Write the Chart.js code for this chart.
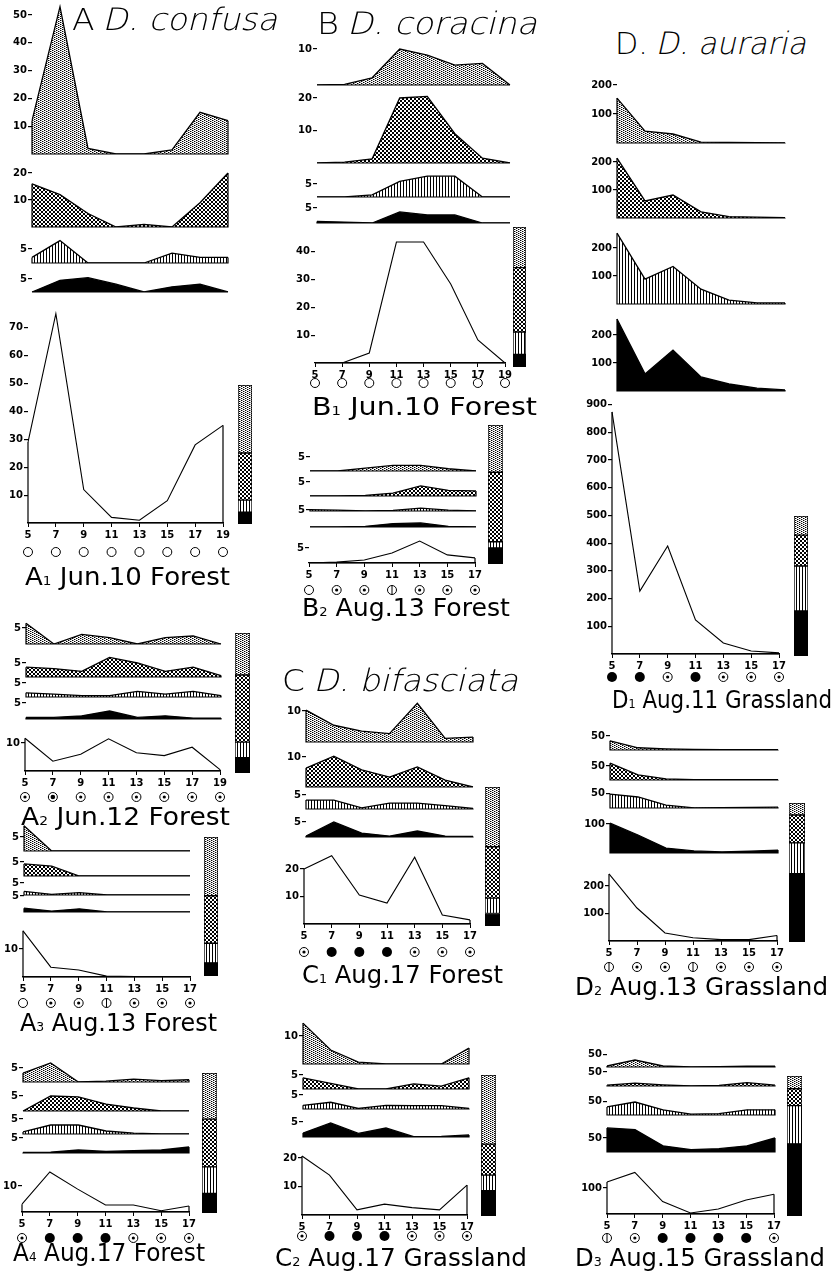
<!DOCTYPE html>
<html lang="en">
<head>
<meta charset="UTF-8" />
<title>Drosophila - daily activity</title>
<script src="https://cdn.jsdelivr.net/npm/chart.js@4"></script>
<style>
  body { margin: 0; background: #fff; }
  #fig { position: relative; width: 836px; height: 1275px; overflow: hidden; background: #fff; }
  #fig canvas { position: absolute; }
  .txt { position: absolute; white-space: nowrap; font-family: 'DejaVu Sans', sans-serif; line-height: 1; color: #000; transform-origin: 0 0; }
  .sp { font-weight: 200; }
  .sp .obl { display: inline-block; transform: skewX(-13deg); }
  .lab sub { font-size: 0.52em; vertical-align: baseline; }
</style>
</head>
<body>
<div id="fig"></div>
<script>
const hours19 = ['5', '7', '9', '11', '13', '15', '17', '19'];
const hours17 = ['5', '7', '9', '11', '13', '15', '17'];

// series order in each panel: light dots, heavy dots, lined, black ; then total
// share = right hand bar, bottom to top: black, lined, heavy, light (%)

// A1 Jun.10 Forest
const a1Light = [12, 53, 2, 0, 0, 1.5, 15, 12];
const a1Heavy = [16, 12, 5, 0, 1, 0, 9, 20];
const a1Lined = [2, 8, 0, 0, 0, 3.5, 2, 2];
const a1Black = [0, 4.5, 5.5, 3, 0, 2, 3, 0];
const a1Total = [29, 75, 12, 2, 1, 8, 28, 35];
const a1Share = [8.6, 8.6, 34, 49];
const a1Sky = ['O', 'O', 'O', 'O', 'O', 'O', 'O', 'O'];
const a1Ticks = [[10, 20, 30, 40, 50], [10, 20], [5], [5], [10, 20, 30, 40, 50, 60, 70]];

// A2 Jun.12 Forest
const a2Light = [6.5, 0, 3, 2, 0, 2, 2.5, 0];
const a2Heavy = [3.5, 3, 2, 7, 5, 2, 3.5, 0.5];
const a2Lined = [1.5, 1, 0.5, 0.5, 2, 1, 2, 0.5];
const a2Black = [0.5, 0.5, 1, 2.5, 0.5, 1, 0.3, 0.3];
const a2Total = [11.7, 3.5, 6, 11.5, 6.5, 5.5, 8.5, 0.5];
const a2Share = [11, 11, 48, 30];
const a2Sky = ['D', 'B', 'D', 'D', 'D', 'D', 'D', 'D'];
const a2Ticks = [[5], [5], [5], [5], [10]];

// A3 Aug.13 Forest
const a3Light = [9, 0, 0, 0, 0, 0, 0];
const a3Heavy = [4.3, 3.5, 0, 0, 0, 0, 0];
const a3Lined = [1.5, 0.3, 1, 0, 0, 0, 0];
const a3Black = [1.2, 0.3, 1, 0, 0, 0, 0];
const a3Total = [16.5, 3.5, 2.5, 0.3, 0.2, 0.2, 0.2];
const a3Share = [9.4, 14, 34, 42];
const a3Sky = ['O', 'D', 'D', 'H', 'D', 'D', 'D'];
const a3Ticks = [[5], [5], [5], [5], [10]];

// A4 Aug.17 Forest
const a4Light = [3.2, 6.8, 0, 0.3, 1, 0.5, 0.8];
const a4Heavy = [0, 5, 4.7, 2.3, 1, 0, 0];
const a4Lined = [0.7, 3, 3, 1, 0.3, 0, 0];
const a4Black = [0.2, 0.3, 1, 0.5, 0.8, 1, 2];
const a4Total = [3, 15.4, 8.8, 2.7, 2.7, 0.5, 2.3];
const a4Share = [14, 19, 34, 33];
const a4Sky = ['D', 'F', 'F', 'F', 'D', 'D', 'D'];
const a4Ticks = [[5], [5], [5], [5], [10]];

// B1 Jun.10 Forest
const b1Light = [0, 0.2, 2, 10, 8.3, 5.5, 6, 0];
const b1Heavy = [0, 0.3, 1.3, 20, 20.5, 9, 1.5, 0];
const b1Lined = [0, 0, 0.8, 6, 8, 8, 0, 0];
const b1Black = [0.5, 0.3, 0, 3.7, 2.7, 2.7, 0, 0];
const b1Total = [0, 0, 3.6, 43.5, 43.5, 28.4, 8.3, 0];
const b1Share = [9, 16, 46, 29];
const b1Sky = ['O', 'O', 'O', 'O', 'O', 'O', 'O', 'O'];
const b1Ticks = [[10], [10, 20], [5], [5], [10, 20, 30, 40]];

// B2 Aug.13 Forest
const b2Light = [0, 0, 1, 2, 2, 0.8, 0];
const b2Heavy = [0, 0, 0.2, 1, 3.6, 2, 1.8];
const b2Lined = [0.5, 0.3, 0, 0.2, 1, 0.3, 0];
const b2Black = [0, 0, 0.2, 1, 1.2, 0.2, 0];
const b2Total = [0, 0.3, 1, 3.3, 7.3, 2.7, 1.7];
const b2Share = [11.5, 4.5, 50, 34];
const b2Sky = ['O', 'D', 'D', 'H', 'D', 'D', 'D'];
const b2Ticks = [[5], [5], [], [5], [5]];

// C1 Aug.17 Forest
const c1Light = [10.3, 5.4, 3.5, 2.7, 12.5, 1.2, 1.6];
const c1Heavy = [6.3, 10.3, 5.7, 3.3, 6.7, 2.3, 0];
const c1Lined = [3.2, 3.2, 0.4, 2.1, 2.1, 1.2, 0.2];
const c1Black = [0.3, 5, 1.3, 0.3, 2, 0.3, 0.2];
const c1Total = [20, 24.8, 10.5, 7.6, 24.3, 3.3, 1.5];
const c1Share = [9, 11, 37, 43];
const c1Sky = ['D', 'F', 'F', 'F', 'D', 'D', 'D'];
const c1Ticks = [[10], [10], [5], [5], [10, 20]];

// C2 Aug.17 Grassland
const c2Light = [14.6, 5, 0.7, 0, 0, 0, 5.7];
const c2Heavy = [4, 2, 0, 0, 1.8, 1, 4];
const c2Lined = [1.3, 2.4, 0.2, 1.3, 1.2, 1.2, 0.2];
const c2Black = [1.3, 4.7, 1.2, 3, 0.1, 0.2, 0.7];
const c2Total = [20.7, 14, 1.8, 3.8, 2.6, 1.8, 10.5];
const c2Share = [18, 11, 22, 49];
const c2Sky = ['D', 'F', 'F', 'F', 'D', 'D', 'D'];
const c2Ticks = [[10], [5], [5], [5], [10, 20]];

// D1 Aug.11 Grassland
const d1Light = [155, 41, 31, 3, 2, 1, 0.5];
const d1Heavy = [214, 61, 82, 22, 5, 3, 1];
const d1Lined = [253, 89, 134, 53, 14, 4, 4];
const d1Black = [257, 61, 146, 50, 25, 10, 4];
const d1Total = [874, 227, 390, 123, 40, 11, 4];
const d1Share = [32, 32, 22, 13.6];
const d1Sky = ['F', 'F', 'D', 'F', 'D', 'D', 'D'];
const d1Ticks = [[100, 200], [100, 200], [100, 200], [100, 200], [100, 200, 300, 400, 500, 600, 700, 800, 900]];

// D2 Aug.13 Grassland
const d2Light = [33, 8, 4, 2, 1, 1, 1];
const d2Heavy = [60, 18, 4, 1, 1, 1, 1];
const d2Lined = [48, 38, 10, 0.5, 1, 2, 3];
const d2Black = [103, 62, 17, 7, 4, 6, 10];
const d2Total = [244, 120, 29, 12, 5, 5, 20];
const d2Share = [49, 22, 20, 8.6];
const d2Sky = ['H', 'D', 'D', 'H', 'D', 'D', 'D'];
const d2Ticks = [[50], [50], [50], [100], [100, 200]];

// D3 Aug.15 Grassland
const d3Light = [4, 28, 4, 0, 1, 3, 3];
const d3Heavy = [3, 10, 4, 0, 2, 12, 3];
const d3Lined = [30, 48, 19, 3, 5, 19, 19];
const d3Black = [86, 80, 22, 8, 12, 22, 50];
const d3Total = [123, 160, 48, 4, 19, 54, 76];
const d3Share = [51, 27, 12, 9];
const d3Sky = ['H', 'D', 'F', 'F', 'F', 'F', 'D'];
const d3Ticks = [[50], [50], [50], [50], [100]];

// ---- layout (page pixels): [x first hour, x last hour, baseline y, px per unit]
const layA1 = { strips: [[32, 228, 154, 2.78], [32, 228, 227, 2.7], [32, 228, 263, 2.8], [32, 228, 292, 2.6]],
  total: [28, 223, 523, 2.79], sky: 29, bar: [238, 385, 14, 139], label: [25, 567, 205] };
const layA2 = { strips: [[26, 221, 644, 3.2], [26, 221, 677, 2.8], [26, 221, 697, 2.8], [26, 221, 719, 3.2]],
  total: [25, 220, 771, 2.8], sky: 26, bar: [235, 633, 15, 140], label: [21, 807, 209] };
const layA3 = { strips: [[24, 190, 851, 2.8], [24, 190, 876, 2.8], [24, 190, 895, 2.4], [24, 190, 912, 3.2]],
  total: [23, 190, 977, 2.8], sky: 26, bar: [204, 837, 14, 139], label: [20, 1013, 197] };
const layA4 = { strips: [[23, 189, 1082, 2.8], [23, 189, 1111, 3], [23, 189, 1134, 3], [23, 189, 1153, 3]],
  total: [22, 189, 1212, 2.6], sky: 26, bar: [202, 1073, 15, 140], label: [13, 1243, 192] };
const layB1 = { strips: [[317, 510, 85, 3.6], [317, 510, 163, 3.25], [317, 510, 197, 2.6], [317, 510, 223, 3]],
  total: [315, 505, 363, 2.78], sky: 20, bar: [513, 227, 13, 140], label: [312, 397, 225] };
const layB2 = { strips: [[310, 476, 471, 2.8], [310, 476, 496, 2.8], [310, 476, 511, 2.8], [310, 476, 527, 3.4]],
  total: [309, 475, 563, 3], sky: 27, bar: [488, 425, 15, 139], label: [302, 598, 208] };
const layC1 = { strips: [[306, 473, 742, 3.1], [306, 473, 787, 3], [306, 473, 809, 2.8], [306, 473, 837, 3]],
  total: [304, 470, 924, 2.75], sky: 28, bar: [485, 787, 15, 139], label: [302, 965, 201] };
const layC2 = { strips: [[303, 469, 1064, 2.8], [303, 469, 1089, 2.8], [303, 469, 1109, 2.8], [303, 469, 1137, 3]],
  total: [302, 467, 1215, 2.85], sky: 21, bar: [481, 1075, 15, 141], label: [275, 1248, 252] };
const layD1 = { strips: [[617, 785, 143, 0.29], [617, 785, 218, 0.28], [617, 785, 304, 0.28], [617, 785, 391, 0.28]],
  total: [612, 779, 654, 0.277], sky: 23, bar: [794, 516, 14, 140], label: [612, 690, 220] };
const layD2 = { strips: [[610, 778, 750, 0.28], [610, 778, 780, 0.28], [610, 778, 808, 0.29], [610, 778, 853, 0.29]],
  total: [609, 777, 941, 0.275], sky: 26, bar: [789, 803, 16, 139], label: [575, 977, 253] };
const layD3 = { strips: [[607, 775, 1067, 0.25], [607, 775, 1086, 0.28], [607, 775, 1115, 0.27], [607, 775, 1152, 0.28]],
  total: [607, 774, 1214, 0.26], sky: 24, bar: [787, 1076, 15, 140], label: [575, 1248, 250] };

const panels = [
  { lead: 'A', sub: '1', text: ' Jun.10 Forest', hours: hours19, series: [a1Light, a1Heavy, a1Lined, a1Black], total: a1Total, share: a1Share, sky: a1Sky, ticks: a1Ticks, lay: layA1 },
  { lead: 'A', sub: '2', text: ' Jun.12 Forest', hours: hours19, series: [a2Light, a2Heavy, a2Lined, a2Black], total: a2Total, share: a2Share, sky: a2Sky, ticks: a2Ticks, lay: layA2 },
  { lead: 'A', sub: '3', text: ' Aug.13 Forest', hours: hours17, series: [a3Light, a3Heavy, a3Lined, a3Black], total: a3Total, share: a3Share, sky: a3Sky, ticks: a3Ticks, lay: layA3 },
  { lead: 'A', sub: '4', text: ' Aug.17 Forest', hours: hours17, series: [a4Light, a4Heavy, a4Lined, a4Black], total: a4Total, share: a4Share, sky: a4Sky, ticks: a4Ticks, lay: layA4 },
  { lead: 'B', sub: '1', text: ' Jun.10 Forest', hours: hours19, series: [b1Light, b1Heavy, b1Lined, b1Black], total: b1Total, share: b1Share, sky: b1Sky, ticks: b1Ticks, lay: layB1 },
  { lead: 'B', sub: '2', text: ' Aug.13 Forest', hours: hours17, series: [b2Light, b2Heavy, b2Lined, b2Black], total: b2Total, share: b2Share, sky: b2Sky, ticks: b2Ticks, lay: layB2 },
  { lead: 'C', sub: '1', text: ' Aug.17 Forest', hours: hours17, series: [c1Light, c1Heavy, c1Lined, c1Black], total: c1Total, share: c1Share, sky: c1Sky, ticks: c1Ticks, lay: layC1 },
  { lead: 'C', sub: '2', text: ' Aug.17 Grassland', hours: hours17, series: [c2Light, c2Heavy, c2Lined, c2Black], total: c2Total, share: c2Share, sky: c2Sky, ticks: c2Ticks, lay: layC2 },
  { lead: 'D', sub: '1', text: ' Aug.11 Grassland', hours: hours17, series: [d1Light, d1Heavy, d1Lined, d1Black], total: d1Total, share: d1Share, sky: d1Sky, ticks: d1Ticks, lay: layD1 },
  { lead: 'D', sub: '2', text: ' Aug.13 Grassland', hours: hours17, series: [d2Light, d2Heavy, d2Lined, d2Black], total: d2Total, share: d2Share, sky: d2Sky, ticks: d2Ticks, lay: layD2 },
  { lead: 'D', sub: '3', text: ' Aug.15 Grassland', hours: hours17, series: [d3Light, d3Heavy, d3Lined, d3Black], total: d3Total, share: d3Share, sky: d3Sky, ticks: d3Ticks, lay: layD3 }
];

const titles = [
  { lead: 'A', name: 'D. confusa', pos: [72, 8, 208] },
  { lead: 'B', name: 'D. coracina', pos: [317, 12, 223] },
  { lead: 'C', name: 'D. bifasciata', pos: [282, 669, 238] },
  { lead: 'D.', name: 'D. auraria', pos: [615, 32, 193] }
];

// ---- drawing
const fig = document.getElementById('fig');
const AXW = 34;
const TICK_FONT = { family: 'DejaVu Sans', size: 10, weight: 'bold' };

function tile(w, h, cells, greys) {
  const c = document.createElement('canvas');
  c.width = w; c.height = h;
  const g = c.getContext('2d');
  g.fillStyle = '#fff'; g.fillRect(0, 0, w, h);
  g.fillStyle = '#000';
  cells.forEach(([x, y]) => g.fillRect(x, y, 1, 1));
  g.fillStyle = '#999';
  (greys || []).forEach(([x, y]) => g.fillRect(x, y, 1, 1));
  return g.createPattern(c, 'repeat');
}
const lightFill = tile(4, 2, [[0, 0], [2, 1]], [[1, 0], [3, 1]]);
const heavyFill = tile(4, 4, [[1, 0], [2, 0], [0, 1], [3, 1], [0, 2], [3, 2], [1, 3], [2, 3]]);
const linedFill = tile(3, 1, [[0, 0]]);
const seriesFill = [lightFill, heavyFill, linedFill, '#000'];
const shareFill = ['#000', linedFill, heavyFill, lightFill];

function addCanvas(left, top, w, h) {
  const c = document.createElement('canvas');
  c.width = w; c.height = h;
  c.style.left = left + 'px'; c.style.top = top + 'px';
  c.style.width = w + 'px'; c.style.height = h + 'px';
  fig.appendChild(c);
  return c;
}

function baseOptions(extra) {
  return Object.assign({
    responsive: false, animation: false, events: [],
    plugins: { legend: { display: false }, tooltip: { enabled: false } }
  }, extra);
}

// closes each polygon: vertical ends + baseline
const outline = {
  id: 'outline',
  afterDatasetsDraw(chart) {
    const ctx = chart.ctx;
    const pts = chart.getDatasetMeta(0).data;
    const base = chart.scales.y.getPixelForValue(0);
    const a = pts[0], b = pts[pts.length - 1];
    ctx.save();
    ctx.strokeStyle = '#000'; ctx.lineWidth = 1.2;
    ctx.beginPath();
    ctx.moveTo(a.x, a.y); ctx.lineTo(a.x, base);
    ctx.lineTo(b.x, base); ctx.lineTo(b.x, b.y);
    ctx.stroke();
    ctx.restore();
  }
};

function drawSky(ctx, x, y, code) {
  ctx.save();
  ctx.strokeStyle = '#000'; ctx.fillStyle = '#000'; ctx.lineWidth = 1;
  ctx.beginPath();
  ctx.arc(x, y, code === 'F' ? 5 : 4.5, 0, Math.PI * 2);
  if (code === 'F') ctx.fill(); else ctx.stroke();
  if (code === 'D' || code === 'B') {
    ctx.beginPath();
    ctx.arc(x, y, code === 'B' ? 2.3 : 1.6, 0, Math.PI * 2);
    ctx.fill();
  }
  if (code === 'H') {
    ctx.beginPath(); ctx.moveTo(x, y - 4.5); ctx.lineTo(x, y + 4.5); ctx.stroke();
  }
  ctx.restore();
}

function skyRow(codes, off) {
  return {
    id: 'sky',
    afterDraw(chart) {
      const xs = chart.scales.x;
      const y = chart.chartArea.bottom + off;
      codes.forEach((code, i) => drawSky(chart.ctx, xs.getPixelForValue(i), y, code));
    }
  };
}

function yScale(ticks, max) {
  return {
    min: 0, max: max, bounds: 'data',
    afterBuildTicks: s => { s.ticks = ticks.map(v => ({ value: v })); },
    afterFit: s => { s.width = AXW; s.paddingTop = 0; s.paddingBottom = 0; },
    border: { display: false },
    grid: { drawOnChartArea: false, drawTicks: true, tickLength: 4, color: '#000', lineWidth: 1.2 },
    ticks: { font: TICK_FONT, color: '#000', padding: 1 }
  };
}

function xScale(xH) {
  return {
    offset: false,
    afterFit: s => { s.height = xH; s.paddingLeft = 0; s.paddingRight = 0; },
    border: { display: true, color: '#000', width: 1.2 },
    grid: { drawOnChartArea: false, drawTicks: true, tickLength: 4, color: '#000', lineWidth: 1 },
    ticks: { font: TICK_FONT, color: '#000', padding: 2, maxRotation: 0, autoSkip: false }
  };
}

function plot(hours, values, fill, ticks, box, sky, skyOff) {
  const [x0, x1, y0, ppu] = box;
  const isTotal = !!sky;
  const padT = 8, padR = isTotal ? 10 : 4, xH = isTotal ? 20 : 0;
  const padB = isTotal ? skyOff + 8 : 3;
  const peak = Math.max(0, ...values, ...ticks);
  const H = Math.ceil(peak * ppu) + 3;
  const w = AXW + (x1 - x0) + padR;
  const h = padT + H + xH + padB;
  const canvas = addCanvas(x0 - AXW, y0 - H - padT, w, h);
  const plugins = [outline];
  if (isTotal) plugins.push(skyRow(sky, skyOff));
  new Chart(canvas, {
    type: 'line',
    data: {
      labels: hours,
      datasets: [{
        data: values, fill: isTotal ? false : 'origin', backgroundColor: fill,
        borderColor: '#000', borderWidth: isTotal ? 1.1 : 1.3, pointRadius: 0, tension: 0
      }]
    },
    options: baseOptions({
      layout: { padding: { top: padT, right: padR, bottom: padB, left: 0 } },
      scales: {
        x: isTotal ? xScale(xH) : { display: false, offset: false },
        y: yScale(ticks, H / ppu)
      }
    }),
    plugins: plugins
  });
}

function shareBar(share, box) {
  const [bx, by, bw, bh] = box;
  const canvas = addCanvas(bx - 1, by - 1, bw + 2, bh + 2);
  new Chart(canvas, {
    type: 'bar',
    data: {
      labels: [''],
      datasets: share.map((v, i) => ({
        data: [v], backgroundColor: shareFill[i], borderColor: '#000', borderWidth: 1,
        borderSkipped: false, barPercentage: 1, categoryPercentage: 1
      }))
    },
    options: baseOptions({
      layout: { padding: 1 },
      scales: {
        x: { display: false, stacked: true },
        y: { display: false, stacked: true, min: 0, max: share.reduce((a, b) => a + b, 0) }
      }
    })
  });
}

function addText(html, cls, x, capTop, width, fs) {
  const el = document.createElement('div');
  el.className = 'txt ' + cls;
  el.innerHTML = html;
  el.style.left = x + 'px';
  el.style.top = (capTop - 0.117 * fs) + 'px';
  el.style.fontSize = fs + 'px';
  fig.appendChild(el);
  const natural = el.getBoundingClientRect().width;
  el.style.transform = 'scaleX(' + (width / natural) + ')';
}

panels.forEach(p => {
  p.series.forEach((s, i) => plot(p.hours, s, seriesFill[i], p.ticks[i], p.lay.strips[i]));
  plot(p.hours, p.total, null, p.ticks[4], p.lay.total, p.sky, p.lay.sky);
  shareBar(p.share, p.lay.bar);
  const [lx, ly, lw] = p.lay.label;
  addText(p.lead + '<sub>' + p.sub + '</sub>' + p.text, 'lab', lx, ly, lw, 25);
});

titles.forEach(t => {
  const [x, y, w] = t.pos;
  addText(t.lead + ' <span class="obl">' + t.name + '</span>', 'sp', x, y, w, 31);
});
</script>
</body>
</html>
